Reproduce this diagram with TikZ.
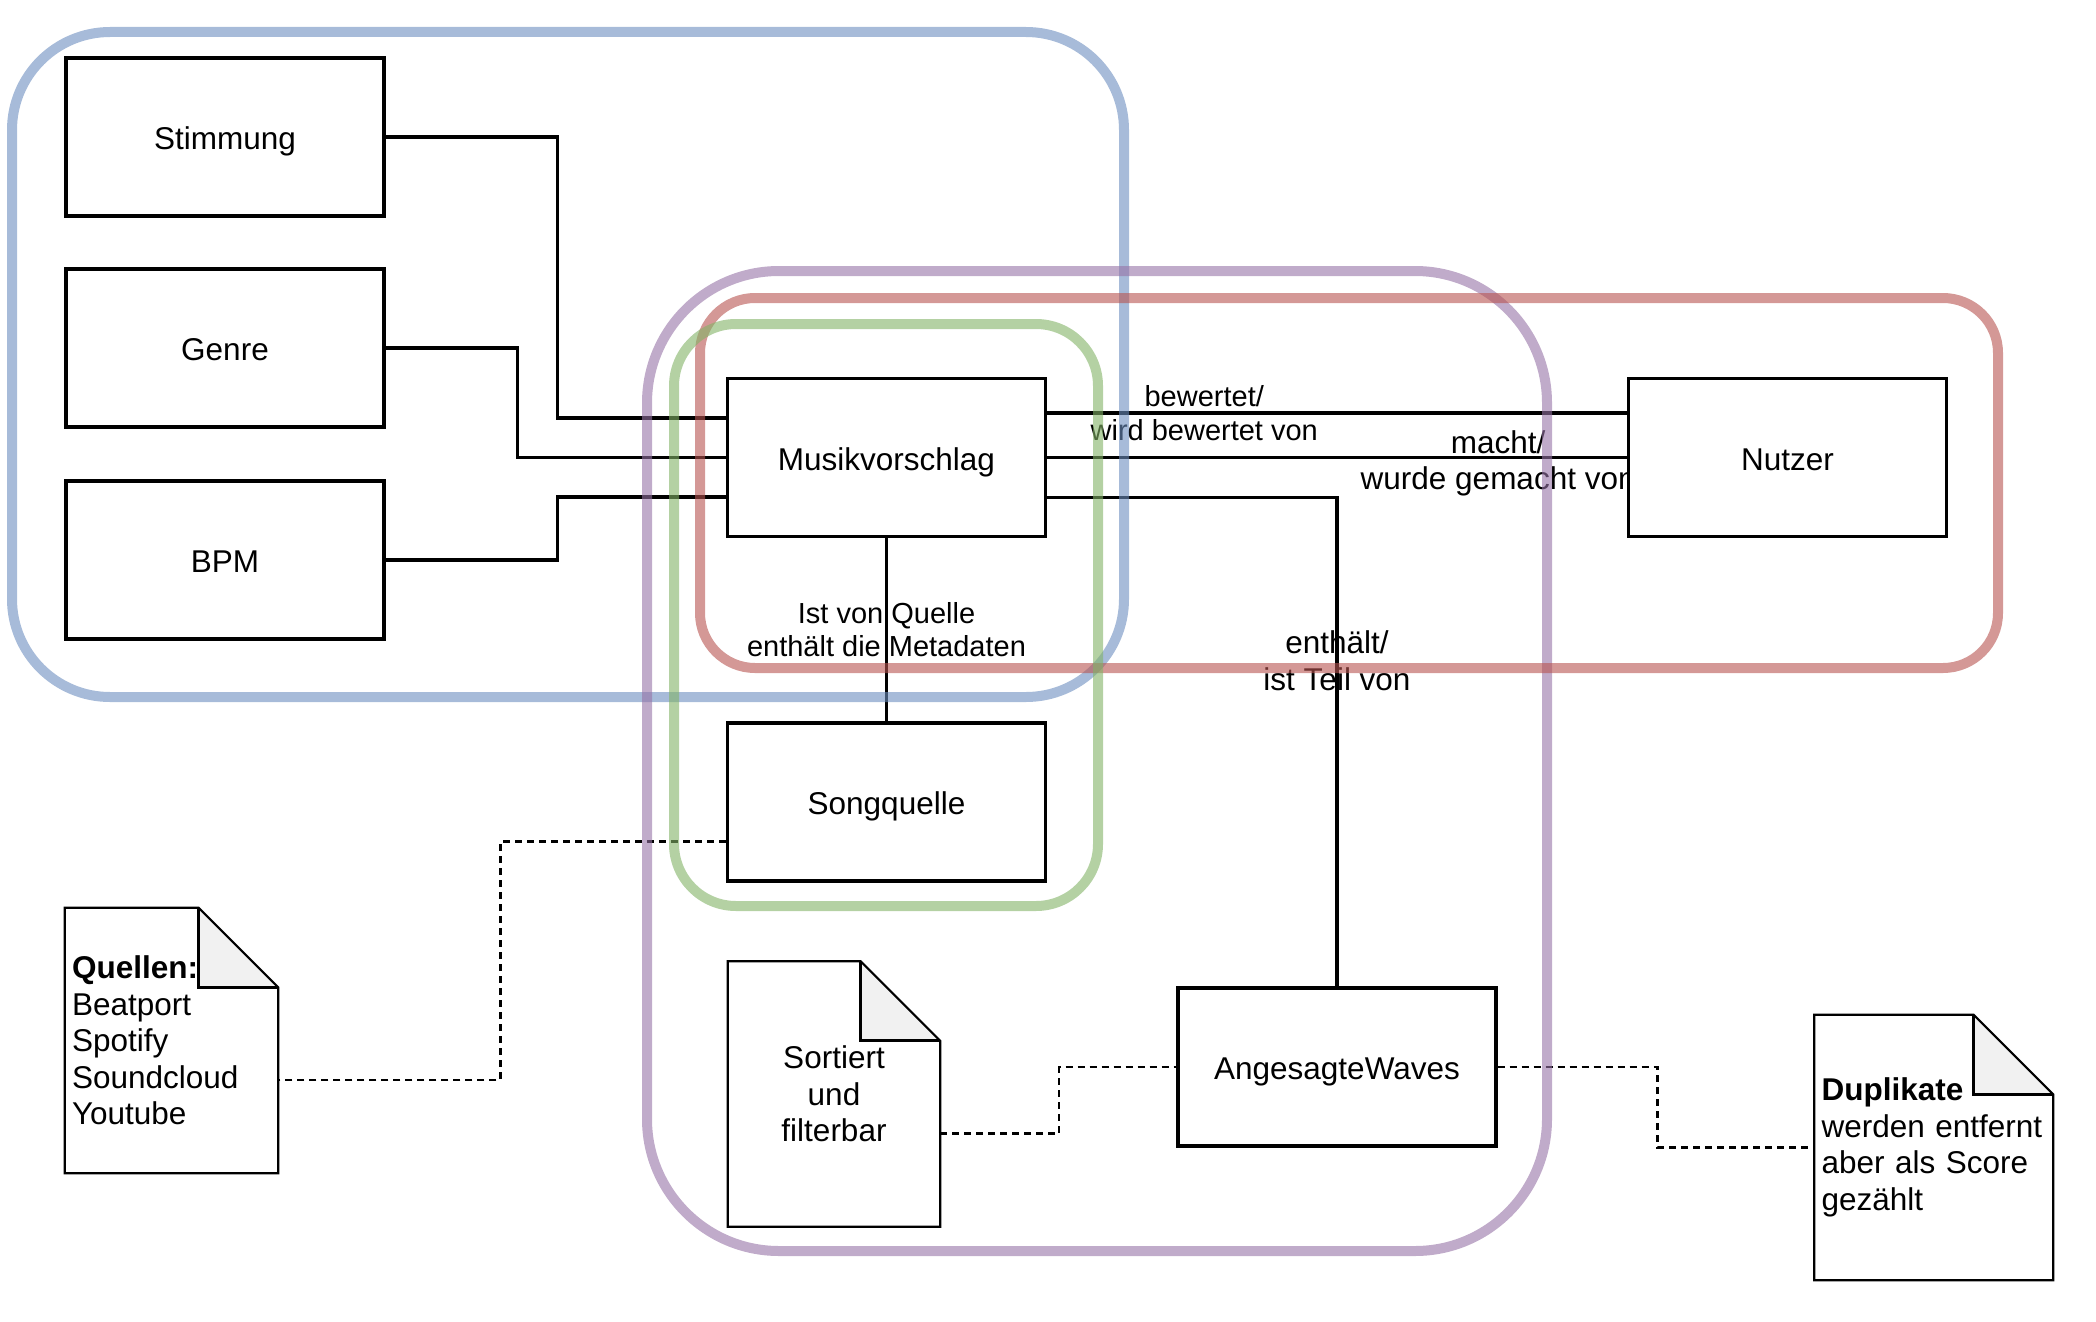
\documentclass[tikz,border=0pt]{standalone}
\usepackage{fontspec}
\setmainfont{Liberation Sans}
\usepackage{tikz}

\definecolor{grpblue}{HTML}{6C8EBF}
\definecolor{grpgreen}{HTML}{82B366}
\definecolor{grpred}{HTML}{B85450}
\definecolor{grppurple}{HTML}{9673A6}
\definecolor{foldgray}{HTML}{F1F1F1}

\pgfdeclarelayer{back}
\pgfsetlayers{back,main}

% folded paper outline around a note node
\newcommand{\dogear}[1]{%
  \fill[foldgray] ([xshift=-79.5pt]#1.north east) -- ([xshift=-79.5pt,yshift=-79.5pt]#1.north east) -- ([yshift=-79.5pt]#1.north east) -- cycle;
  \draw[line width=2.2pt] (#1.north west) -- ([xshift=-79.5pt]#1.north east) -- ([yshift=-79.5pt]#1.north east) -- (#1.south east) -- (#1.south west) -- cycle;
  \draw[line width=3.3pt] ([xshift=-79.5pt]#1.north east) -- ([xshift=-79.5pt,yshift=-79.5pt]#1.north east) -- ([yshift=-79.5pt]#1.north east);
}

\begin{document}
\begin{tikzpicture}[x=1pt,y=-1pt,
  font=\fontsize{31.5}{36.5}\selectfont,
  entity/.style={draw,line width=3.3pt,fill=white,minimum width=318pt,minimum height=158pt,inner sep=0pt,text height=31.5pt,text depth=6.3pt},
  note/.style={minimum height=265pt,inner xsep=7pt,inner ysep=0pt},
  link/.style={line width=3.3pt},
  hint/.style={line width=2.4pt,dash pattern=on 7pt off 5pt},
  rel/.style={align=center,inner sep=0pt},
  small/.style={font=\fontsize{29}{33.5}\selectfont},
  grp/.style={draw=#1,draw opacity=0.6,line width=10pt}]
\useasboundingbox (0,0) rectangle (2096,1322);

% entities
\foreach \name/\txt/\y in {stim/Stimmung/137,genre/Genre/348,bpm/BPM/560}
  {\node[entity] (\name) at (225,\y) {\txt};}
\node[entity] (mv) at (886.5,457.5) {Musikvorschlag};
\node[entity] (nutzer) at (1787.5,457.5) {Nutzer};
\node[entity] (sq) at (886.5,802) {Songquelle};
\node[entity] (aw) at (1337,1067) {AngesagteWaves};

% notes
\node[note,minimum width=213pt,text width=199pt,align=left] (quellen) at (171.5,1040.5)
  {\textbf{Quellen:}\\Beatport\\Spotify\\Soundcloud\\Youtube};
\node[note,minimum width=212pt,text width=198pt,align=center] (sortiert) at (834,1094)
  {Sortiert\\und\\filterbar};
\node[note,minimum width=238.5pt,text width=224.5pt,align=left] (dup) at (1933.75,1147.5)
  {\textbf{Duplikate}\\werden entfernt\\aber als Score\\gezählt};

\begin{pgfonlayer}{back}
% relations
\draw[link] (stim.east) -- ++(172,0) |- ([yshift=39.5pt]mv.west);
\draw[link] (genre.east) -- ++(131.5,0) |- (mv.west);
\draw[link] (bpm.east) -- ++(172,0) |- ([yshift=-39.5pt]mv.west);
\draw[link] ([yshift=44.5pt]mv.east) -- node[rel,small,pos=0.271] {bewertet/\\wird bewertet von} ([yshift=44.5pt]nutzer.west);
\draw[link] (mv.east) -- node[rel,pos=0.778,yshift=-6pt] {macht/\\wurde gemacht von} (nutzer.west);
\draw[link] ([yshift=-40pt]mv.east) -| node[rel,pos=0.667] {enthält/\\ist Teil von} (aw.north);
\draw[link] (mv.south) -- node[rel,small] {Ist von Quelle\\enthält die Metadaten} (sq.north);

% hints
\draw[hint] ([yshift=-39.5pt]sq.west) -- ++(-225.5,0) |- ([yshift=-39.5pt]quellen.east);
\draw[hint] ([yshift=-39.5pt]sortiert.east) -- ++(119,0) |- (aw.west);
\draw[hint] (aw.east) -- ++(160,0) |- (dup.west);
\end{pgfonlayer}

\dogear{quellen}
\dogear{sortiert}
\dogear{dup}

% groups
\draw[grp=grpblue,rounded corners=98pt] (12,32) rectangle (1124,697);
\draw[grp=grppurple,rounded corners=132pt] (647,271) rectangle (1547,1251);
\draw[grp=grpred,rounded corners=55pt] (700,298) rectangle (1998,668);
\draw[grp=grpgreen,rounded corners=62pt] (674,324) rectangle (1098,906);
\end{tikzpicture}
\end{document}
